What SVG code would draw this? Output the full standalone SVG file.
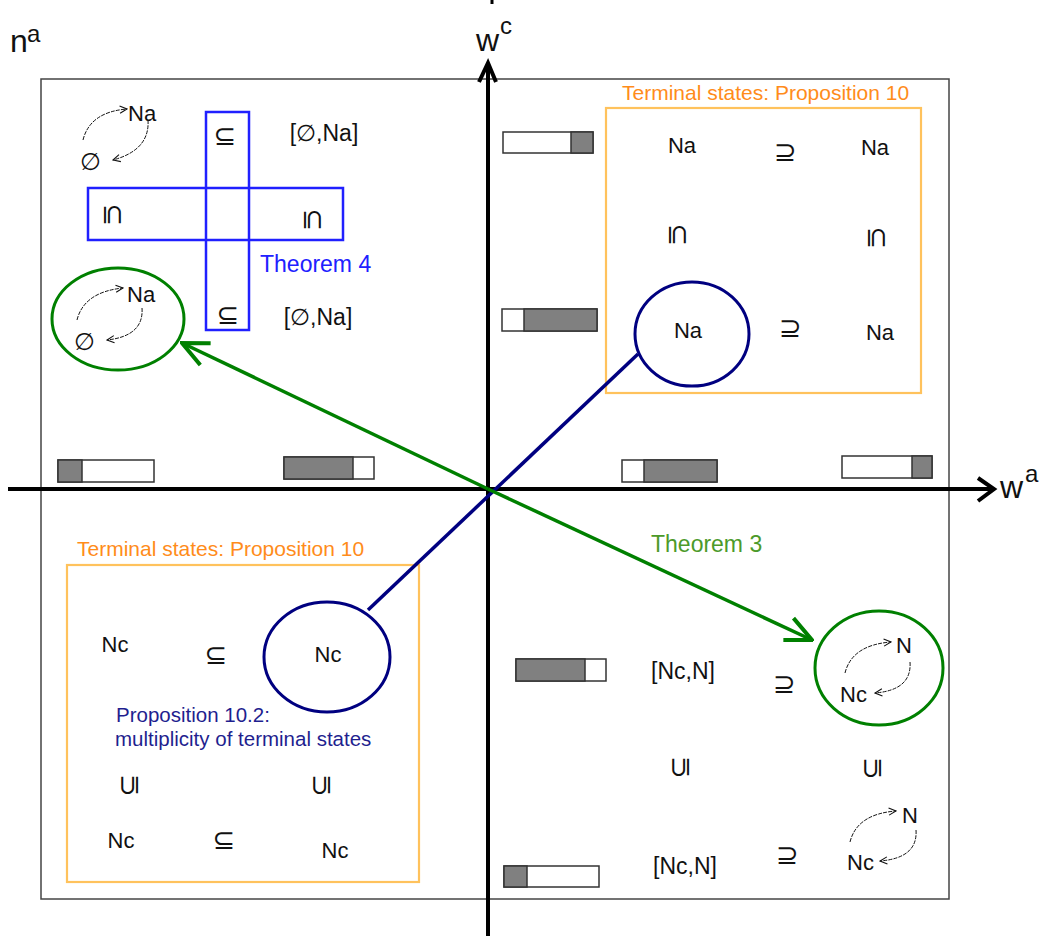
<svg xmlns="http://www.w3.org/2000/svg" width="1050" height="936" viewBox="0 0 1050 936">
<defs>
<style>
text{font-family:"Liberation Sans","DejaVu Sans",sans-serif;fill:#111}
.t{font-size:22px;text-anchor:middle}
.s{font-size:27px;text-anchor:middle;font-family:"DejaVu Sans",sans-serif}
.br{font-size:23px;text-anchor:middle}
.bar{stroke:#333;stroke-width:1.5}
.g{fill:#808080}
.w{fill:#fff}
.cyc{fill:none;stroke:#111;stroke-width:1;stroke-dasharray:4 1.2}
.orange{fill:none;stroke:#ffc25c;stroke-width:2.2}
.olab{font-size:21px;fill:#ff8c1a}
</style>
<marker id="tip" viewBox="0 0 10 10" refX="9" refY="5" markerWidth="9" markerHeight="9" markerUnits="userSpaceOnUse" orient="auto">
<path d="M1,1 L9,5 L1,9" fill="none" stroke="#111" stroke-width="1.2"/>
</marker>
<marker id="garrow" viewBox="0 0 30 30" refX="28" refY="15" markerWidth="30" markerHeight="30" markerUnits="userSpaceOnUse" orient="auto">
<path d="M2,3 L28,15 L2,27" fill="none" stroke="#008000" stroke-width="4" stroke-linejoin="miter"/>
</marker>
</defs>
<rect width="1050" height="936" fill="#fff"/>

<!-- frame -->
<rect id="frame" x="41" y="79" width="908" height="820" fill="none" stroke="#444" stroke-width="1.5"/>

<!-- axes -->
<g id="axes" stroke="#000" fill="none" stroke-width="4">
<line x1="8" y1="489" x2="993" y2="489"/>
<polyline points="978,478 994,489 978,501" stroke-linejoin="miter"/>
<line x1="488" y1="64" x2="488" y2="936"/>
<polyline points="479,82 488,63 496,82"/>
<line x1="492" y1="0" x2="492" y2="4" stroke-width="3"/>
</g>
<g id="axis-labels">
<text x="10" y="52" font-size="32">n</text><text x="27" y="42" font-size="24">a</text>
<text x="476" y="51" font-size="32">w</text><text x="500" y="34" font-size="24">c</text>
<text x="1000" y="498" font-size="32">w</text><text x="1025" y="482" font-size="24">a</text>
</g>

<!-- bars -->
<g id="bars">
<rect class="bar w" x="58" y="460" width="96" height="22"/><rect class="bar g" x="58" y="460" width="24" height="22"/>
<rect class="bar w" x="284" y="457" width="90" height="22"/><rect class="bar g" x="284" y="457" width="69" height="22"/>
<rect class="bar w" x="622" y="460" width="95" height="22"/><rect class="bar g" x="644" y="460" width="73" height="22"/>
<rect class="bar w" x="842" y="456" width="90" height="22"/><rect class="bar g" x="912" y="456" width="20" height="22"/>
<rect class="bar w" x="503" y="132" width="90" height="21"/><rect class="bar g" x="571" y="132" width="22" height="21"/>
<rect class="bar w" x="502" y="309" width="95" height="22"/><rect class="bar g" x="524" y="309" width="73" height="22"/>
<rect class="bar w" x="516" y="659" width="90" height="22"/><rect class="bar g" x="516" y="659" width="69" height="22"/>
<rect class="bar w" x="504" y="866" width="95" height="21"/><rect class="bar g" x="504" y="866" width="23" height="21"/>
</g>

<!-- top-left quadrant -->
<g id="theorem4">
<rect x="206" y="112" width="43" height="218" fill="none" stroke="#2020ff" stroke-width="2.5"/>
<rect x="88" y="188" width="255" height="52" fill="none" stroke="#2020ff" stroke-width="2.5"/>
<text x="260" y="272" font-size="23" style="fill:#2020ff">Theorem 4</text>
</g>
<g id="tl-cycle1">
<path class="cyc" d="M83,140 Q90,112 127,109" marker-end="url(#tip)"/>
<path class="cyc" d="M148,120 Q150,150 113,160" marker-end="url(#tip)"/>
<text x="128" y="121" font-size="22">Na</text>
<text x="80" y="170" font-size="24" style="font-family:'DejaVu Sans',sans-serif">∅</text>
</g>
<g id="tl-row1">
<text class="s" x="225" y="145">⊆</text>
<text class="br" x="324" y="141">[∅,Na]</text>
</g>
<g id="tl-row2">
<text class="s" transform="translate(113,215) rotate(90)" dy="0.35em">⊆</text>
<text class="s" transform="translate(313,220) rotate(90)" dy="0.35em">⊆</text>
</g>
<g id="tl-row3">
<text class="s" x="228" y="324">⊆</text>
<text class="br" x="318" y="325">[∅,Na]</text>
</g>
<g id="tl-cycle2">
<ellipse cx="118" cy="319" rx="66" ry="51" fill="none" stroke="#008000" stroke-width="3"/>
<path class="cyc" d="M77,320 Q84,292 123,288" marker-end="url(#tip)"/>
<path class="cyc" d="M142,308 Q144,336 107,340" marker-end="url(#tip)"/>
<text x="127" y="302" font-size="22">Na</text>
<text x="74" y="350" font-size="24" style="font-family:'DejaVu Sans',sans-serif">∅</text>
</g>

<!-- top-right quadrant -->
<g id="tr-terminal">
<text class="olab" x="622" y="100" style="fill:#ff8c1a">Terminal states: Proposition 10</text>
<rect class="orange" x="606" y="108" width="315" height="285"/>
<text class="t" x="682" y="153">Na</text>
<text class="s" x="785" y="161">⊇</text>
<text class="t" x="875" y="155">Na</text>
<text class="s" transform="translate(678,235) rotate(90)" dy="0.35em">⊆</text>
<text class="s" transform="translate(877,238) rotate(90)" dy="0.35em">⊆</text>
<ellipse cx="692" cy="334" rx="57" ry="52" fill="none" stroke="#000080" stroke-width="3"/>
<text class="t" x="688" y="338">Na</text>
<text class="s" x="790" y="337">⊇</text>
<text class="t" x="880" y="340">Na</text>
</g>

<!-- bottom-left quadrant -->
<g id="bl-terminal">
<text class="olab" x="77" y="556" style="fill:#ff8c1a">Terminal states: Proposition 10</text>
<rect class="orange" x="67" y="565" width="352" height="317"/>
<text class="t" x="115" y="652">Nc</text>
<text class="s" x="216" y="664">⊆</text>
<ellipse cx="327" cy="657" rx="63" ry="55" fill="none" stroke="#000080" stroke-width="3"/>
<text class="t" x="328" y="662">Nc</text>
<text x="116" y="722" font-size="20.5" style="fill:#1f1f8f">Proposition 10.2:</text>
<text x="115" y="746" font-size="20.5" style="fill:#1f1f8f">multiplicity of terminal states</text>
<text class="s" transform="translate(129,785) rotate(-90)" dy="0.35em">⊆</text>
<text class="s" transform="translate(321,785) rotate(-90)" dy="0.35em">⊆</text>
<text class="t" x="121" y="848">Nc</text>
<text class="s" x="224" y="849">⊆</text>
<text class="t" x="335" y="858">Nc</text>
</g>

<!-- bottom-right quadrant -->
<g id="br-block">
<text x="651" y="552" font-size="23" style="fill:#4c9a2a">Theorem 3</text>
<text class="br" x="683" y="679">[Nc,N]</text>
<text class="s" x="784" y="693">⊇</text>
<ellipse cx="879" cy="668" rx="64" ry="57" fill="none" stroke="#008000" stroke-width="3"/>
<path class="cyc" d="M845,673 Q852,645 891,642" marker-end="url(#tip)"/>
<path class="cyc" d="M910,662 Q912,690 875,693" marker-end="url(#tip)"/>
<text x="896" y="653" font-size="22">N</text>
<text x="840" y="702" font-size="22">Nc</text>
<text class="s" transform="translate(680,767) rotate(-90)" dy="0.35em">⊆</text>
<text class="s" transform="translate(872,768) rotate(-90)" dy="0.35em">⊆</text>
<text class="br" x="685" y="874">[Nc,N]</text>
<text class="s" x="787" y="864">⊇</text>
<path class="cyc" d="M850,842 Q857,814 896,811" marker-end="url(#tip)"/>
<path class="cyc" d="M916,830 Q918,858 880,861" marker-end="url(#tip)"/>
<text x="902" y="823" font-size="22">N</text>
<text x="847" y="870" font-size="22">Nc</text>
</g>

<!-- connectors -->
<g id="connectors" fill="none">
<line x1="368" y1="610" x2="638" y2="354" stroke="#000080" stroke-width="3.5"/>
<line x1="488" y1="489" x2="182" y2="343" stroke="#008000" stroke-width="3.5" marker-end="url(#garrow)"/>
<line x1="488" y1="489" x2="812" y2="640" stroke="#008000" stroke-width="3.5" marker-end="url(#garrow)"/>
</g>
</svg>
